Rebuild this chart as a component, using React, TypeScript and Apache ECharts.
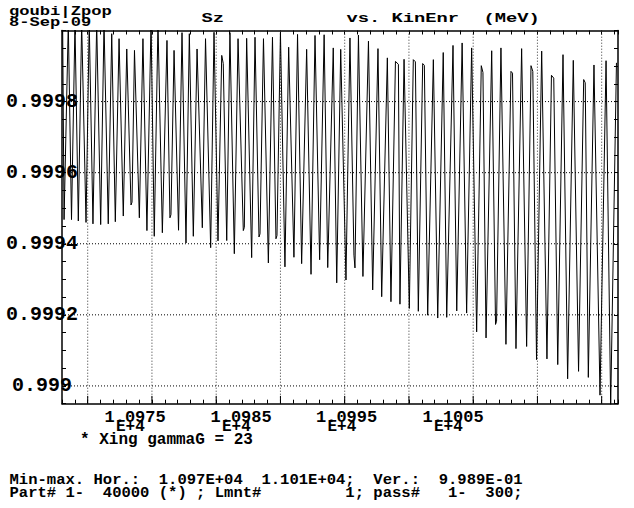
import React, { useEffect, useRef } from "react";
import * as echarts from "echarts";

// Kinetic energy (MeV) and Sz samples
const kinEnr = [
  10968.05, 10968.16, 10968.49, 10968.74, 10969.01, 10969.27, 10969.53, 10969.87, 10970.12, 10970.41,
  10970.70, 10971.01, 10971.27, 10971.60, 10971.87, 10972.15, 10972.44, 10972.77, 10973.04, 10973.37,
  10973.45, 10973.64, 10974.02, 10974.30, 10974.61, 10974.93, 10975.18, 10975.47, 10975.81, 10976.17,
  10976.40, 10976.48, 10976.72, 10977.07, 10977.34, 10977.65, 10977.91, 10978.22, 10978.51, 10978.92,
  10979.17, 10979.57, 10979.83, 10980.14, 10980.43, 10980.55, 10980.82, 10981.07, 10981.41, 10981.70,
  10982.11, 10982.19, 10982.37, 10982.76, 10983.02, 10983.33, 10983.41, 10983.68, 10984.06, 10984.38,
  10984.65, 10984.73, 10985.00, 10985.35, 10985.64, 10986.05, 10986.33, 10986.65, 10987.04, 10987.38,
  10987.69, 10988.05, 10988.40, 10988.68, 10989.11, 10989.38, 10989.69, 10990.10, 10990.41, 10990.72,
  10990.80, 10991.07, 10991.42, 10991.85, 10992.18, 10992.59, 10992.88, 10993.32, 10993.60, 10993.95,
  10994.18, 10994.30, 10994.62, 10995.03, 10995.34, 10995.50, 10995.73, 10996.07, 10996.20, 10996.46,
  10996.90, 10997.24, 10997.67, 10997.94, 10998.43, 10998.72, 10999.14, 10999.49, 10999.88, 11000.27,
  11000.63, 11000.76, 11001.00, 11001.44, 11001.74, 11001.82, 11002.16, 11002.55, 11002.94, 11003.06,
  11003.33, 11003.77, 11004.16, 11004.50, 11004.64, 11004.93, 11005.33, 11005.74, 11006.09, 11006.27,
  11006.58, 11006.99, 11007.35, 11007.79, 11008.20, 11008.60, 11008.72, 11008.96, 11009.40, 11009.87,
  11010.34, 11010.70, 11011.15,
];

const sz = [
  1.00002, 0.999468, 1.00002, 0.999468, 1.00002, 0.999464, 1.00002, 0.99946, 1.00002, 0.999456,
  1.00002, 0.999454, 1.00002, 0.999456, 0.999991, 0.999462, 0.999977, 0.999478, 0.999948, 0.999509,
  0.999517, 0.999944, 0.999473, 0.999977, 0.999437, 1.00002, 0.999421, 1.00002, 0.999431, 0.999972,
  0.999473, 0.999482, 0.999944, 0.999438, 0.999994, 0.999402, 0.999991, 0.999421, 0.999948, 0.999445,
  0.999977, 0.999389, 0.999995, 0.999408, 0.99993, 0.999907, 0.999409, 0.999994, 0.999372, 0.999977,
  0.999437, 0.999446, 0.999978, 0.999361, 0.999981, 0.999419, 0.999428, 0.999977, 0.999346, 0.999981,
  0.999414, 0.999423, 0.999994, 0.999335, 0.999953, 0.999362, 0.999989, 0.999344, 0.999947, 0.999314,
  0.999986, 0.999355, 0.999988, 0.999333, 0.999951, 0.99929, 0.999947, 0.999298, 0.999979, 0.999368,
  0.999332, 0.999987, 0.999308, 0.99997, 0.99927, 0.999949, 0.999251, 0.999923, 0.999237, 0.999913,
  0.999905, 0.99923, 0.999919, 0.999218, 0.999918, 0.999912, 0.99921, 0.999907, 0.999902, 0.999199,
  0.999918, 0.999191, 0.999938, 0.999193, 0.999958, 0.999211, 0.999965, 0.999205, 0.999951, 0.999152,
  0.999901, 0.999882, 0.999135, 0.999943, 0.999173, 0.999182, 0.999951, 0.999117, 0.999885, 0.99988,
  0.999105, 0.999949, 0.999111, 0.999901, 0.999885, 0.999074, 0.999942, 0.999076, 0.999874, 0.999866,
  0.99906, 0.999932, 0.99902, 0.999916, 0.999041, 0.999862, 0.999853, 0.999024, 0.999903, 0.998974,
  0.999915, 0.998944, 0.999909,
];

const xMin = 10968;
const xMax = 11011.27;
const yMin = 0.99895;
const yMax = 1.0;
const majorTickSpan = 0.000022;

const xGridValues = [10970, 10975, 10980, 10985, 10990, 10995, 11000, 11005, 11010];
const yGridValues = [0.999, 0.9992, 0.9994, 0.9996, 0.9998];
const yTickLabels = ["0.999", "0.9992", "0.9994", "0.9996", "0.9998"];
const xTickLabels = ["1.0975", "1.0985", "1.0995", "1.1005"];
const xTickExponent = "E+4";

const headerLines = ["goubi|Zpop", "8-Sep-09"];
const titleParts = ["Sz", "vs. KinEnr", "(MeV)"];
const noteText = "* Xing gammaG = 23";
const footerLines = [
  "Min-max. Hor.:  1.097E+04  1.101E+04;  Ver.:  9.989E-01",
  "Part# 1-  40000 (*) ; Lmnt#         1; pass#   1-  300;",
];

const FONT = "'Liberation Mono', 'DejaVu Sans Mono', monospace";

// text placed by the vertical centre of its line box
function txt(text: string, x: number, cy: number, fontSize: number, lineHeight: number, scaleX = 1) {
  return {
    type: "text",
    x,
    y: cy - lineHeight / 2,
    scaleX,
    silent: true,
    style: {
      text,
      fontFamily: FONT,
      fontWeight: "bold",
      fontSize,
      lineHeight,
      fill: "#000",
      verticalAlign: "top",
      align: "left",
    },
  };
}

export default function App() {
  const ref = useRef<HTMLDivElement>(null);

  useEffect(() => {
    if (!ref.current) return;
    const chart = echarts.init(ref.current, undefined, { renderer: "svg" });

    const gridLineStyle = { type: [1, 2], color: "#000", width: 1 };
    const xLabelStarts = [104.5, 210.5, 316, 422.5];

    const graphics: any[] = [
      txt(headerLines[0], 9, 11.3, 13.6, 10, 1.26),
      txt(headerLines[1], 9, 22.3, 13.6, 10, 1.26),
      txt(titleParts[0], 201.5, 18.3, 13.6, 12, 1.38),
      txt(titleParts[1], 346.5, 18.3, 13.6, 12, 1.38),
      txt(titleParts[2], 483.5, 18.3, 13.6, 12, 1.38),
      txt(noteText, 80, 439.5, 16, 12),
      txt(footerLines[0], 9.5, 479.8, 15.55, 12),
      txt(footerLines[1], 9.5, 493.3, 15.55, 12),
    ];
    xTickLabels.forEach((lab, i) => {
      graphics.push(txt(lab, xLabelStarts[i], 417, 17, 10));
      graphics.push(txt(xTickExponent, xLabelStarts[i] + 11.5, 426.5, 16, 9));
    });

    const commonX = {
      type: "value",
      min: xMin,
      max: xMax,
      interval: 1,
      axisLine: { show: true, onZero: false, lineStyle: { color: "#000", width: 1.5 } },
      axisTick: { show: true, inside: true, length: 4, lineStyle: { color: "#000", width: 1 } },
      axisLabel: { show: false },
      splitLine: { show: false },
    };
    const commonY = {
      type: "value",
      min: yMin,
      max: yMax,
      interval: 0.00005,
      axisLine: { show: true, onZero: false, lineStyle: { color: "#000", width: 1.5 } },
      axisTick: { show: true, inside: true, length: 4, lineStyle: { color: "#000", width: 1 } },
      splitLine: { show: false },
    };

    const gridSeries: any[] = [
      ...xGridValues.map((v) => ({
        type: "line",
        data: [
          [v, yMin],
          [v, yMax],
        ],
        symbol: "none",
        silent: true,
        z: 1,
        lineStyle: { ...gridLineStyle, color: "#333" },
      })),
      ...xGridValues.map((v) => ({
        type: "line",
        data: [
          [v, yMin],
          [v, yMin + majorTickSpan],
        ],
        symbol: "none",
        silent: true,
        z: 2,
        lineStyle: { color: "#000", width: 1 },
      })),
      ...yGridValues.map((v) => ({
        type: "line",
        data: [
          [xMin, v],
          [xMax, v],
        ],
        symbol: "none",
        silent: true,
        z: 1,
        lineStyle: gridLineStyle,
      })),
    ];

    chart.setOption({
      animation: false,
      backgroundColor: "#fff",
      grid: { left: 62, top: 30.5, right: 16, bottom: 104.3, containLabel: false },
      xAxis: [
        { ...commonX, position: "bottom" },
        { ...commonX, position: "top" },
      ],
      yAxis: [
        {
          ...commonY,
          position: "left",
          axisLabel: {
            show: true,
            margin: 20,
            align: "center",
            fontFamily: FONT,
            fontWeight: "bold",
            fontSize: 20,
            color: "#000",
            showMinLabel: true,
            showMaxLabel: true,
            formatter: (v: number) => {
              const i = yGridValues.findIndex((g) => Math.abs(g - v) < 1e-9);
              return i >= 0 ? yTickLabels[i] : "";
            },
          },
        },
        { ...commonY, position: "right", axisLabel: { show: false } },
      ],
      graphic: graphics,
      series: [
        ...gridSeries,
        {
          type: "line",
          xAxisIndex: 0,
          yAxisIndex: 0,
          data: kinEnr.map((x, i) => [x, sz[i]]),
          showSymbol: false,
          symbol: "none",
          clip: true,
          silent: true,
          z: 3,
          lineStyle: { color: "#000", width: 1 },
        },
      ],
    });

    return () => chart.dispose();
  }, []);

  return (
    <div
      ref={ref}
      style={{ position: "fixed", left: 0, top: 0, width: 634, height: 508, background: "#fff" }}
    />
  );
}
